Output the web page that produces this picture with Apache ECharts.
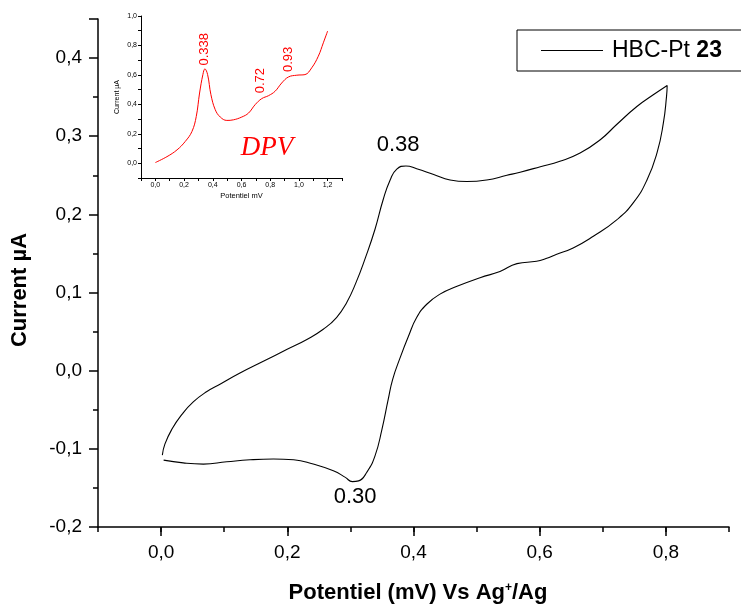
<!DOCTYPE html>
<html><head><meta charset="utf-8">
<script src="https://cdn.jsdelivr.net/npm/echarts@6/dist/echarts.min.js"></script>
<style>html,body{margin:0;padding:0;background:#fff}#c{width:741px;height:609px}</style>
</head><body><div id="c"></div>
<script>
// Main cyclic voltammogram: forward scan (0 -> 0.8 V) then reverse scan (0.8 -> 0 V)
const cvPotential = [0.002,0.006,0.017,0.033,0.051,0.072,0.094,0.125,0.162,0.199,0.231,0.257,0.278,0.294,0.309,0.324,0.339,0.352,0.363,0.3735,0.388,0.405,0.432,0.458,0.4845,0.516,0.548,0.569,0.601,0.632,0.664,0.696,0.722,0.754,0.780,0.802,
  0.801,0.796,0.786,0.770,0.7485,0.722,0.685,0.653,0.627,0.610,0.595,0.564,0.537,0.5055,0.469,0.442,0.421,0.405,0.392,0.379,0.367,0.360,0.350,0.339,0.326,0.313,0.303,0.292,0.273,0.241,0.210,0.178,0.141,0.104,0.067,0.035,0.004];
const cvCurrent = [-0.108,-0.094,-0.075,-0.056,-0.040,-0.027,-0.017,-0.003,0.012,0.027,0.040,0.053,0.068,0.087,0.113,0.145,0.181,0.219,0.244,0.258,0.262,0.2585,0.251,0.244,0.242,0.244,0.250,0.254,0.261,0.268,0.2785,0.2955,0.315,0.338,0.353,0.365,
  0.351,0.317,0.279,0.244,0.215,0.193,0.172,0.157,0.149,0.1435,0.140,0.137,0.127,0.119,0.108,0.098,0.085,0.068,0.044,0.017,-0.011,-0.0365,-0.075,-0.109,-0.130,-0.141,-0.142,-0.1365,-0.128,-0.1195,-0.114,-0.113,-0.114,-0.1166,-0.1195,-0.118,-0.1144];
const cvName = 'HBC-Pt 23';
const cvPeakText = ['0.38','0.30'];
const cvPeakAt = [[0.3756,0.289],[0.3074,-0.1617]];

// Inset DPV
const dpvPotential = [0,0.081,0.151,0.208,0.255,0.285,0.308,0.331,0.345,0.364,0.387,0.417,0.452,0.498,0.544,0.602,0.649,0.695,0.741,0.788,0.834,0.880,0.927,0.985,1.042,1.089,1.135,1.170,1.200];
const dpvCurrent = [0.005,0.045,0.091,0.148,0.216,0.318,0.477,0.602,0.641,0.602,0.466,0.364,0.314,0.291,0.295,0.314,0.341,0.398,0.439,0.459,0.489,0.545,0.586,0.598,0.602,0.648,0.727,0.818,0.898];
const dpvPeakText = ['0.338','0.72','0.93'];
const dpvPeakAt = [[0.340,0.774],[0.734,0.561],[0.924,0.705]];
const dpvTag = 'DPV';
const dpvTagAt = [0.778,0.104];

const mainXMajor = [0, 0.2, 0.4, 0.6, 0.8];
const mainX = {min:-0.1, max:0.9, step:0.1};
const mainY = {min:-0.2, max:0.45, step:0.1};
const insetX = {min:-0.1, max:1.3, step:0.1};
const insetY = {min:-0.1, max:1.0, step:0.1};

const F = 'Liberation Sans, Arial, sans-serif';
const fmtEven = v => { const k = Math.round(v*10); if (k % 2 !== 0 || k < 0) return ''; return (k/10).toFixed(1).replace('.', ','); };
const fmtAll = v => (Math.round(v*10)/10).toFixed(1).replace('.', ',');

const chart = echarts.init(document.getElementById('c'));
chart.setOption({
  animation:false,
  backgroundColor:'#fff',
  grid:[
    {left:98, right:12, top:19, bottom:81},
    {left:141, width:201, top:16, height:162}
  ],
  legend:{
    data:[{name:cvName, icon:'rect'}],
    left:517, top:30,
    itemWidth:62, itemHeight:1.2,
    borderColor:'#000', borderWidth:1,
    padding:[9,20,9,24],
    textStyle:{fontFamily:F, fontSize:23, color:'#000',
      rich:{a:{fontFamily:F, fontSize:23, color:'#000', padding:[0,0,0,4]}, b:{fontFamily:F, fontSize:23, fontWeight:'bold', color:'#000'}}},
    formatter: () => '{a|HBC-Pt }{b|23}'
  },
  xAxis:[
    {gridIndex:0, type:'value', position:'bottom', min:mainX.min, max:mainX.max, interval:mainX.step,
     name:'Potentiel (mV) Vs Ag{s|+}/Ag', nameLocation:'middle', nameGap:55,
     nameTextStyle:{fontFamily:F, fontSize:22, fontWeight:'bold', color:'#000', padding:[0,0,0,9],
       rich:{s:{fontFamily:F, fontSize:12, fontWeight:'bold', color:'#000', verticalAlign:'top', padding:[0,0,10,0]}}},
     axisLine:{onZero:false, lineStyle:{color:'#000', width:1.5}},
     axisTick:{inside:false, length:9, customValues:mainXMajor, lineStyle:{color:'#000', width:1.5}},
     axisLabel:{margin:16, fontFamily:F, fontSize:19, color:'#000', customValues:mainXMajor, formatter:fmtEven},
     splitLine:{show:false}},
    {gridIndex:1, type:'value', min:insetX.min, max:insetX.max, interval:insetX.step,
     name:'Potentiel mV', nameLocation:'middle', nameGap:14,
     nameTextStyle:{fontFamily:F, fontSize:7.5, color:'#000'},
     axisLine:{onZero:false, lineStyle:{color:'#000', width:1}},
     axisTick:{length:3, lineStyle:{color:'#000', width:1}},
     axisLabel:{margin:4, fontFamily:F, fontSize:7, color:'#000', formatter:fmtEven},
     splitLine:{show:false}},
    {gridIndex:0, type:'value', position:'bottom', offset:0, min:mainX.min, max:mainX.max, interval:mainX.step,
     axisLine:{show:false, onZero:false},
     axisTick:{length:5, lineStyle:{color:'#000', width:1.5}},
     axisLabel:{show:false},
     splitLine:{show:false}}
  ],
  yAxis:[
    {gridIndex:0, type:'value', min:mainY.min, max:mainY.max, interval:mainY.step,
     name:'Current µA', nameLocation:'middle', nameGap:67, nameRotate:90,
     nameTextStyle:{fontFamily:F, fontSize:22, fontWeight:'bold', color:'#000', padding:[0,34,0,0]},
     axisLine:{onZero:false, lineStyle:{color:'#000', width:1.5}},
     axisTick:{length:9, lineStyle:{color:'#000', width:1.5}},
     minorTick:{show:true, splitNumber:2, length:5, lineStyle:{color:'#000', width:1.5}},
     axisLabel:{margin:16, fontFamily:F, fontSize:19, color:'#000', formatter:fmtAll, showMaxLabel:false},
     splitLine:{show:false}},
    {gridIndex:1, type:'value', min:insetY.min, max:insetY.max, interval:insetY.step,
     name:'Current µA', nameLocation:'middle', nameGap:20, nameRotate:90,
     nameTextStyle:{fontFamily:F, fontSize:7, color:'#000'},
     axisLine:{onZero:false, lineStyle:{color:'#000', width:1}},
     axisTick:{length:3, lineStyle:{color:'#000', width:1}},
     axisLabel:{margin:4, fontFamily:F, fontSize:7, color:'#000', formatter:v => { const k=Math.round(v*10); return (k%2===0 && k>=0) ? (k/10).toFixed(1).replace('.', ',') : ''; }},
     splitLine:{show:false}}
  ],
  series:[
    {name:cvName, type:'line', xAxisIndex:0, yAxisIndex:0, showSymbol:false, symbol:'none', smooth:0.5,
     color:'#000', lineStyle:{color:'#000', width:1.1},
     data: cvPotential.map((x,i)=>[x, cvCurrent[i]]),
     markPoint:{symbol:'circle', symbolSize:0, silent:true,
       label:{show:true, position:'inside', formatter:'{b}', fontFamily:F, fontSize:22, color:'#000'},
       data: cvPeakText.map((t,i)=>({name:t, coord:cvPeakAt[i]}))}
    },
    {name:'DPV', type:'line', xAxisIndex:1, yAxisIndex:1, showSymbol:false, symbol:'none', smooth:0.4,
     color:'#f00', lineStyle:{color:'#f00', width:1},
     data: dpvPotential.map((x,i)=>[x, dpvCurrent[i]]),
     markPoint:{symbol:'circle', symbolSize:0, silent:true,
       label:{show:true, position:'inside', formatter:'{b}', fontFamily:F, fontSize:13, color:'#f00', rotate:90},
       data: dpvPeakText.map((t,i)=>({name:t, coord:dpvPeakAt[i]})).concat([
         {name:dpvTag, coord:dpvTagAt, label:{rotate:0, fontFamily:'Liberation Serif, Times New Roman, serif', fontStyle:'italic', fontSize:27, color:'#f00'}}
       ])}
    }
  ]
});
</script></body></html>
